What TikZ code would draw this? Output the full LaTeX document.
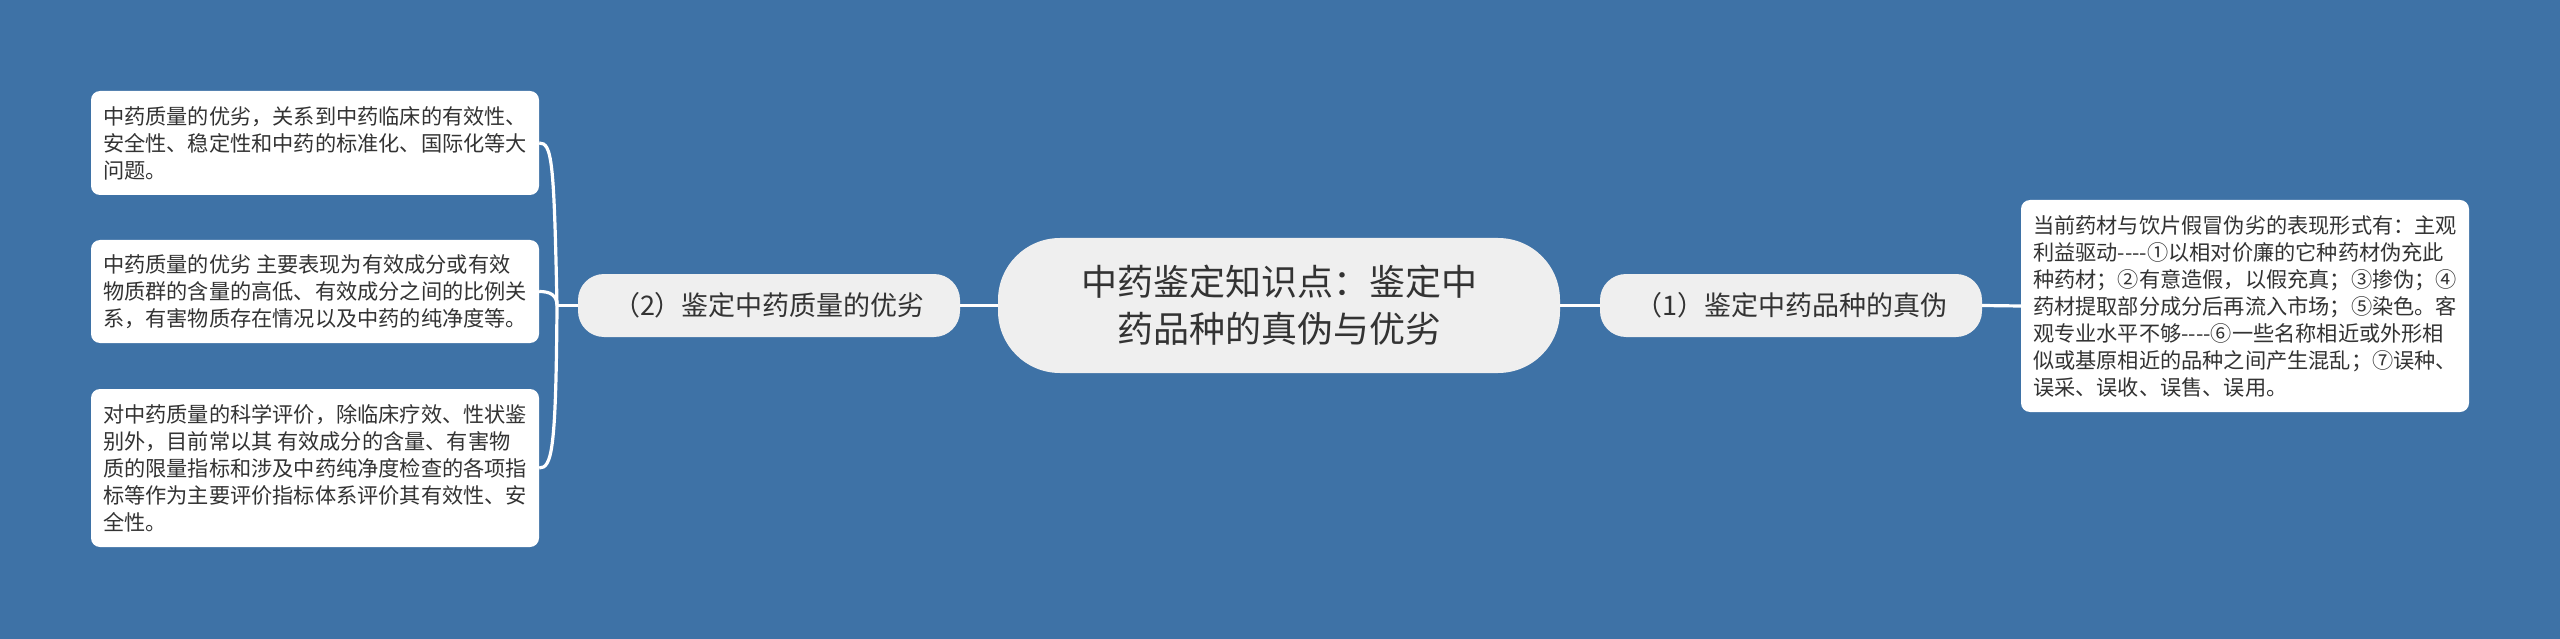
\documentclass[tikz,border=0pt]{standalone}
\usepackage{fontspec}
\setmainfont{Noto Sans CJK SC}
\definecolor{bgblue}{HTML}{3E72A6}
\definecolor{nodegray}{HTML}{EFEFEF}
\definecolor{txt}{HTML}{333333}
\begin{document}
\begin{tikzpicture}[x=1pt,y=-1pt,
  conn/.style={draw=white,line width=3.2pt},
  centerbox/.style={fill=nodegray,rounded corners=62pt,minimum width=562pt,minimum height=135pt,inner sep=0pt,align=center,text=txt,font=\fontsize{36}{47}\selectfont},
  mainbox/.style={fill=nodegray,rounded corners=26pt,minimum width=382pt,minimum height=63pt,inner sep=0pt,text=txt,font=\fontsize{27}{32}\selectfont},
  leafbox/.style={fill=white,rounded corners=9pt,minimum width=448pt,inner sep=0pt,align=left,text=txt,font=\fontsize{21.2}{27}\selectfont}
]
\useasboundingbox (0,0) rectangle (2560,639);
\fill[bgblue] (0,0) rectangle (2560,639);

\node[centerbox] (c) at (1279,305.5) {中药鉴定知识点：鉴定中\\药品种的真伪与优劣};
\node[mainbox] (l) at (769,305.5) {（2）鉴定中药质量的优劣};
\node[mainbox] (r) at (1791,305.5) {（1）鉴定中药品种的真伪};

\node[leafbox,minimum height=104pt] (b1) at (315,143) {中药质量的优劣，关系到中药临床的有效性、\\安全性、稳定性和中药的标准化、国际化等大\\问题。};
\node[leafbox,minimum height=103pt] (b2) at (315,291.5) {中药质量的优劣 主要表现为有效成分或有效\\物质群的含量的高低、有效成分之间的比例关\\系，有害物质存在情况以及中药的纯净度等。};
\node[leafbox,minimum height=158pt] (b3) at (315,468) {对中药质量的科学评价，除临床疗效、性状鉴\\别外，目前常以其 有效成分的含量、有害物\\质的限量指标和涉及中药纯净度检查的各项指\\标等作为主要评价指标体系评价其有效性、安\\全性。};
\node[leafbox,minimum height=212pt] (br) at (2245,306) {当前药材与饮片假冒伪劣的表现形式有：主观\\利益驱动-{}-{}-{}-①以相对价廉的它种药材伪充此\\种药材；②有意造假，以假充真；③掺伪；④\\药材提取部分成分后再流入市场；⑤染色。客\\观专业水平不够-{}-{}-{}-⑥一些名称相近或外形相\\似或基原相近的品种之间产生混乱；⑦误种、\\误采、误收、误售、误用。};

\coordinate (j) at (557,305.5);
\draw[conn] (c.west) -- (l.east);
\draw[conn] (c.east) -- (r.west);
\draw[conn] (r.east) -- (br.west);
\draw[conn] (l.west) -- (j);
\draw[conn] (j) .. controls (554,160) and (552,143) .. (b1.east);
\draw[conn] (j) .. controls (557,295) and (550,291.5) .. (b2.east);
\draw[conn] (j) .. controls (556,450) and (552,468) .. (b3.east);
\end{tikzpicture}
\end{document}
